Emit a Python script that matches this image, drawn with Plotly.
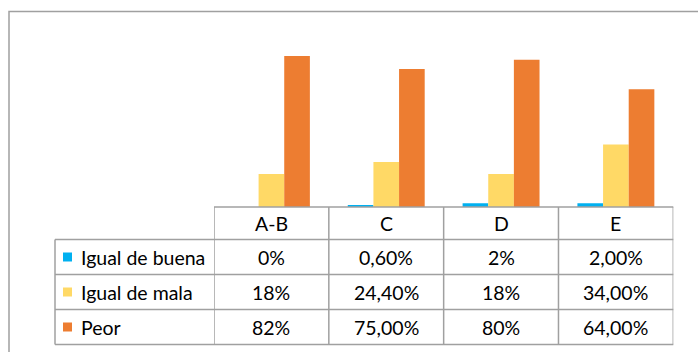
import plotly.graph_objects as go

# Survey results per group
categories = ["A-B", "C", "D", "E"]
igual_buena = [0, 0.6, 2, 2]
igual_mala = [18, 24.4, 18, 34]
peor = [82, 75, 80, 64]
# decimals shown in the data table for each group column
decimals = [0, 2, 0, 2]

series = [
    ("Igual de buena", igual_buena, "#00B0F0"),
    ("Igual de mala", igual_mala, "#FFD966"),
    ("Peor", peor, "#ED7D31"),
]

W, H = 698, 352
FONT = "Lato"
FSIZE = 19.5
LINE = dict(color="#a0a0a0", width=1.5)


def px(x):
    return x / W


def py(y):
    return 1 - y / H


# table geometry (pixels)
tab_left, col_left, col_right = 55, 214, 673.3
row_y = [207, 239.5, 274.5, 309.5, 344.5]

fig = go.Figure()
for name, vals, color in series:
    fig.add_trace(go.Bar(
        x=categories, y=vals, name=name,
        marker=dict(color=color, line=dict(width=0)),
        showlegend=False,
    ))


def fmt(v, d):
    s = f"{v:.{d}f}".replace(".", ",")
    return s + "%"


shapes = []
annotations = []

# outer chart frame
shapes.append(dict(type="rect", xref="paper", yref="paper",
                   x0=px(9), x1=1.05, y0=-0.05, y1=py(11.5), line=LINE))

# horizontal table rules
shapes.append(dict(type="line", xref="paper", yref="paper",
                   x0=px(col_left), x1=px(col_right), y0=py(row_y[0]), y1=py(row_y[0]), line=LINE))
for y in row_y[1:]:
    shapes.append(dict(type="line", xref="paper", yref="paper",
                       x0=px(tab_left), x1=px(col_right), y0=py(y), y1=py(y), line=LINE))

# vertical table rules at category boundaries
for i in range(len(categories) + 1):
    shapes.append(dict(type="line", xref="x", yref="paper",
                       x0=i - 0.5, x1=i - 0.5, y0=py(row_y[0]), y1=py(row_y[-1]), line=LINE))
shapes.append(dict(type="line", xref="paper", yref="paper",
                   x0=px(tab_left), x1=px(tab_left), y0=py(row_y[1]), y1=py(row_y[-1]), line=LINE))

# header row
for i, c in enumerate(categories):
    annotations.append(dict(x=i, xref="x", y=py((row_y[0] + row_y[1]) / 2), yref="paper",
                            text=c, showarrow=False, xanchor="center", yanchor="middle",
                            font=dict(family=FONT, size=FSIZE, color="#000")))

# series rows
for r, (name, vals, color) in enumerate(series):
    yc = (row_y[r + 1] + row_y[r + 2]) / 2
    shapes.append(dict(type="rect", xref="paper", yref="paper",
                       x0=px(63), x1=px(72), y0=py(yc + 4.5), y1=py(yc - 4.5),
                       fillcolor=color, line=dict(width=0)))
    annotations.append(dict(x=px(79), xref="paper", y=py(yc), yref="paper",
                            text=name, showarrow=False, xanchor="left", yanchor="middle",
                            font=dict(family=FONT, size=FSIZE, color="#000")))
    for i, v in enumerate(vals):
        annotations.append(dict(x=i, xref="x", y=py(yc), yref="paper",
                                text=fmt(v, decimals[i]), showarrow=False,
                                xanchor="center", yanchor="middle",
                                font=dict(family=FONT, size=FSIZE, color="#000")))

fig.update_layout(
    width=W, height=H,
    margin=dict(l=0, r=0, t=0, b=0),
    paper_bgcolor="white", plot_bgcolor="white",
    barmode="group", bargap=0.33, bargroupgap=0,
    xaxis=dict(domain=[px(col_left), px(col_right)], range=[-0.5, 3.5],
               showticklabels=False, showgrid=False, zeroline=False, showline=False),
    yaxis=dict(domain=[py(207), py(23)], range=[0, 100],
               showticklabels=False, showgrid=False, zeroline=False, showline=False),
    shapes=shapes,
    annotations=annotations,
)

fig.write_html("out.html")
